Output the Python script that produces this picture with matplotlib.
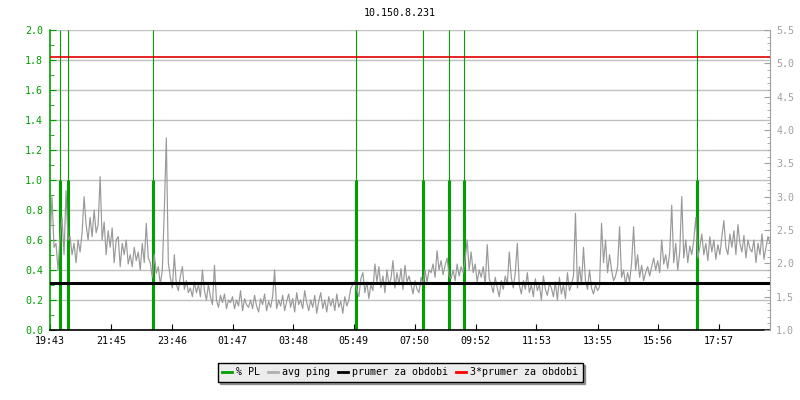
import numpy as np
import matplotlib.pyplot as plt
from matplotlib.lines import Line2D

plt.rcParams['font.family'] = 'DejaVu Sans Mono'
plt.rcParams['font.size'] = 7.2

# data
title = '10.150.8.231'
tick_labels = ['19:43', '21:45', '23:46', '01:47', '03:48', '05:49',
               '07:50', '09:52', '11:53', '13:55', '15:56', '17:57']
step_min = 4          # one ping sample every 4 minutes
span_min = 1436

# avg ping [ms], right axis
ping = [
    2.35, 3.0, 2.24, 2.3, 1.9, 2.4, 2.69, 2.13, 3.09, 2.35,
    2.4, 2.13, 2.3, 2.01, 2.35, 2.17, 2.46, 3.0, 2.58, 2.35,
    2.69, 2.4, 2.8, 2.46, 2.58, 3.3, 2.35, 2.62, 2.13, 2.49,
    2.24, 2.53, 2.01, 2.35, 2.4, 1.95, 2.3, 2.13, 2.35, 1.99,
    2.13, 1.95, 2.24, 2.04, 2.17, 1.9, 2.3, 2.01, 2.6, 2.08,
    2.01, 1.79, 2.13, 1.85, 1.95, 1.68, 1.9, 2.8, 3.88, 2.01,
    1.79, 1.63, 2.13, 1.68, 1.59, 1.81, 1.95, 1.61, 1.74, 1.56,
    1.63, 1.5, 1.72, 1.56, 1.68, 1.5, 1.9, 1.59, 1.45, 1.68,
    1.5, 1.38, 1.97, 1.45, 1.34, 1.52, 1.41, 1.54, 1.32, 1.45,
    1.41, 1.5, 1.32, 1.45, 1.36, 1.59, 1.29, 1.47, 1.38, 1.34,
    1.45, 1.32, 1.52, 1.36, 1.27, 1.47, 1.38, 1.54, 1.29, 1.43,
    1.34, 1.5, 1.9, 1.32, 1.45, 1.36, 1.52, 1.29, 1.43, 1.54,
    1.34, 1.47, 1.27, 1.56, 1.38, 1.45, 1.32, 1.59, 1.41, 1.29,
    1.45, 1.34, 1.52, 1.25, 1.43, 1.56, 1.32, 1.45, 1.27, 1.5,
    1.36, 1.47, 1.29, 1.54, 1.34, 1.43, 1.25, 1.5, 1.36, 1.45,
    1.63, 1.68, 1.74, 1.61, 1.5, 1.77, 1.86, 1.56, 1.72, 1.47,
    1.68, 1.59, 1.99, 1.72, 1.95, 1.63, 1.81, 1.56, 1.9, 1.68,
    1.77, 2.04, 1.63, 1.86, 1.68, 1.92, 1.61, 1.97, 1.72, 1.81,
    1.68, 1.54, 1.74, 1.61, 1.56, 1.79, 1.68, 1.9, 1.72, 1.9,
    1.86, 1.99, 1.79, 2.19, 1.9, 2.04, 1.83, 1.97, 2.08, 1.81,
    1.77, 1.9, 1.74, 1.99, 1.81, 1.95, 1.86, 2.06, 2.35, 1.9,
    2.17, 1.86, 1.99, 1.72, 1.9, 1.79, 1.95, 1.68, 2.28, 1.77,
    1.68, 1.56, 1.79, 1.63, 1.5, 1.74, 1.61, 1.81, 1.68, 2.17,
    1.79, 1.63, 1.86, 2.3, 1.68, 1.54, 1.74, 1.61, 1.86, 1.56,
    1.68, 1.5, 1.77, 1.59, 1.68, 1.45, 1.81, 1.61, 1.52, 1.7,
    1.63, 1.5, 1.72, 1.45, 1.79, 1.54, 1.68, 1.47, 1.86, 1.59,
    1.68, 1.81, 2.75, 1.63, 1.95, 1.68, 2.24, 1.74, 1.61, 1.9,
    1.63, 1.54, 1.68, 1.59, 1.65, 2.6, 2.01, 2.35, 1.86, 2.13,
    1.9, 1.74, 1.81, 1.95, 2.55, 1.79, 1.9, 1.68, 1.86, 1.72,
    2.01, 2.55, 1.9, 2.13, 1.79, 1.97, 1.74, 1.86, 1.95, 1.81,
    1.95, 2.08, 1.9, 2.04, 1.86, 2.35, 1.99, 2.13, 1.92, 2.17,
    2.87, 2.01, 2.3, 1.9, 2.17, 3.0, 2.08, 2.35, 2.01, 2.26,
    2.13, 2.35, 2.69, 2.08, 2.24, 2.44, 2.13, 2.3, 2.04, 2.4,
    2.17, 2.35, 2.06, 2.28, 2.13, 2.4, 2.64, 2.24, 2.13, 2.44,
    2.24, 2.49, 2.13, 2.58, 2.3, 2.17, 2.42, 2.08, 2.35, 2.22,
    2.17, 2.35, 2.01, 2.3, 2.13, 2.44, 2.06, 2.24, 2.4, 2.3,
]

# packet loss events: minutes after start, % PL
pl_times = [20, 35, 205, 610, 744, 795, 825, 1290]
pl_values = [1.0, 1.0, 1.0, 1.0, 1.0, 1.0, 1.0, 1.0]

prumer = 1.70   # average ping for the period

green = '#00a000'
gray = '#999999'

t = np.arange(len(ping)) * step_min

fig = plt.figure(figsize=(8, 4), dpi=100)
ax = fig.add_axes([50/800, 1-330/400, 720/800, 300/400])
ax2 = ax.twinx()

# left axis: % PL
ax.set_xlim(0, span_min)
ax.set_ylim(0, 2.0)
ax.vlines(pl_times, 0, 2.0, color=green, lw=0.8)
ax.vlines(pl_times, 0, pl_values, color=green, lw=2.2)
ax.set_yticks(np.arange(0, 2.01, 0.2))
ax.set_yticks(np.arange(0, 2.01, 0.1), minor=True)
ax.yaxis.grid(True, color='#c0c0c0', lw=1.0)
ax.set_axisbelow(True)
ax.yaxis.set_major_formatter(plt.FormatStrFormatter('%.1f'))
ax.tick_params(axis='y', which='both', direction='in', colors=green, pad=5)
ax.tick_params(axis='y', which='major', length=4)
ax.tick_params(axis='y', which='minor', length=3)

start_h, start_m = map(int, tick_labels[0].split(':'))
tick_pos = [((int(s[:2])*60 + int(s[3:]) - start_h*60 - start_m) % 1440)
            for s in tick_labels]
ax.set_xticks(tick_pos)
ax.set_xticklabels(tick_labels)
ax.tick_params(axis='x', direction='in', length=4, color='black', pad=4)

for side in ['top', 'right']:
    ax.spines[side].set_visible(False)
ax.spines['left'].set_color(green)
ax.spines['left'].set_linewidth(1.2)
ax.spines['bottom'].set_linewidth(1.2)

# right axis: ping
ax2.set_ylim(1.0, 5.5)
ax2.plot(t, ping, color=gray, lw=0.85)
ax2.axhline(prumer, color='black', lw=2.2)
ax2.axhline(3*prumer, color='#e00000', lw=1.2)
ax2.set_yticks(np.arange(1.0, 5.51, 0.5))
ax2.set_yticks(np.arange(1.0, 5.51, 0.1), minor=True)
ax2.yaxis.set_major_formatter(plt.FormatStrFormatter('%.1f'))
ax2.tick_params(axis='y', which='both', direction='in', colors='#a0a0a0', pad=4.5)
ax2.tick_params(axis='y', which='major', length=4)
ax2.tick_params(axis='y', which='minor', length=2.5)
for side in ['top', 'left', 'bottom']:
    ax2.spines[side].set_visible(False)
ax2.spines['right'].set_color('#a0a0a0')

fig.text(0.5, 1-13/400, title, ha='center', va='center')

handles = [Line2D([], [], color=green, lw=2),
           Line2D([], [], color='#b0b0b0', lw=2),
           Line2D([], [], color='black', lw=2),
           Line2D([], [], color='#ff0000', lw=2)]
labels = ['% PL', 'avg ping', 'prumer za obdobi', '3*prumer za obdobi']
leg = fig.legend(handles, labels, loc='center', bbox_to_anchor=(0.5, 1-372/400),
                 ncol=4, frameon=True, fancybox=False, shadow=True,
                 handlelength=1.0, handletextpad=0.4, columnspacing=0.8,
                 borderpad=0.45, fontsize=7.2)
leg.get_frame().set_facecolor('#ececec')
leg.get_frame().set_edgecolor('black')
leg.get_frame().set_alpha(1)

fig.savefig('out.png', dpi=100)
